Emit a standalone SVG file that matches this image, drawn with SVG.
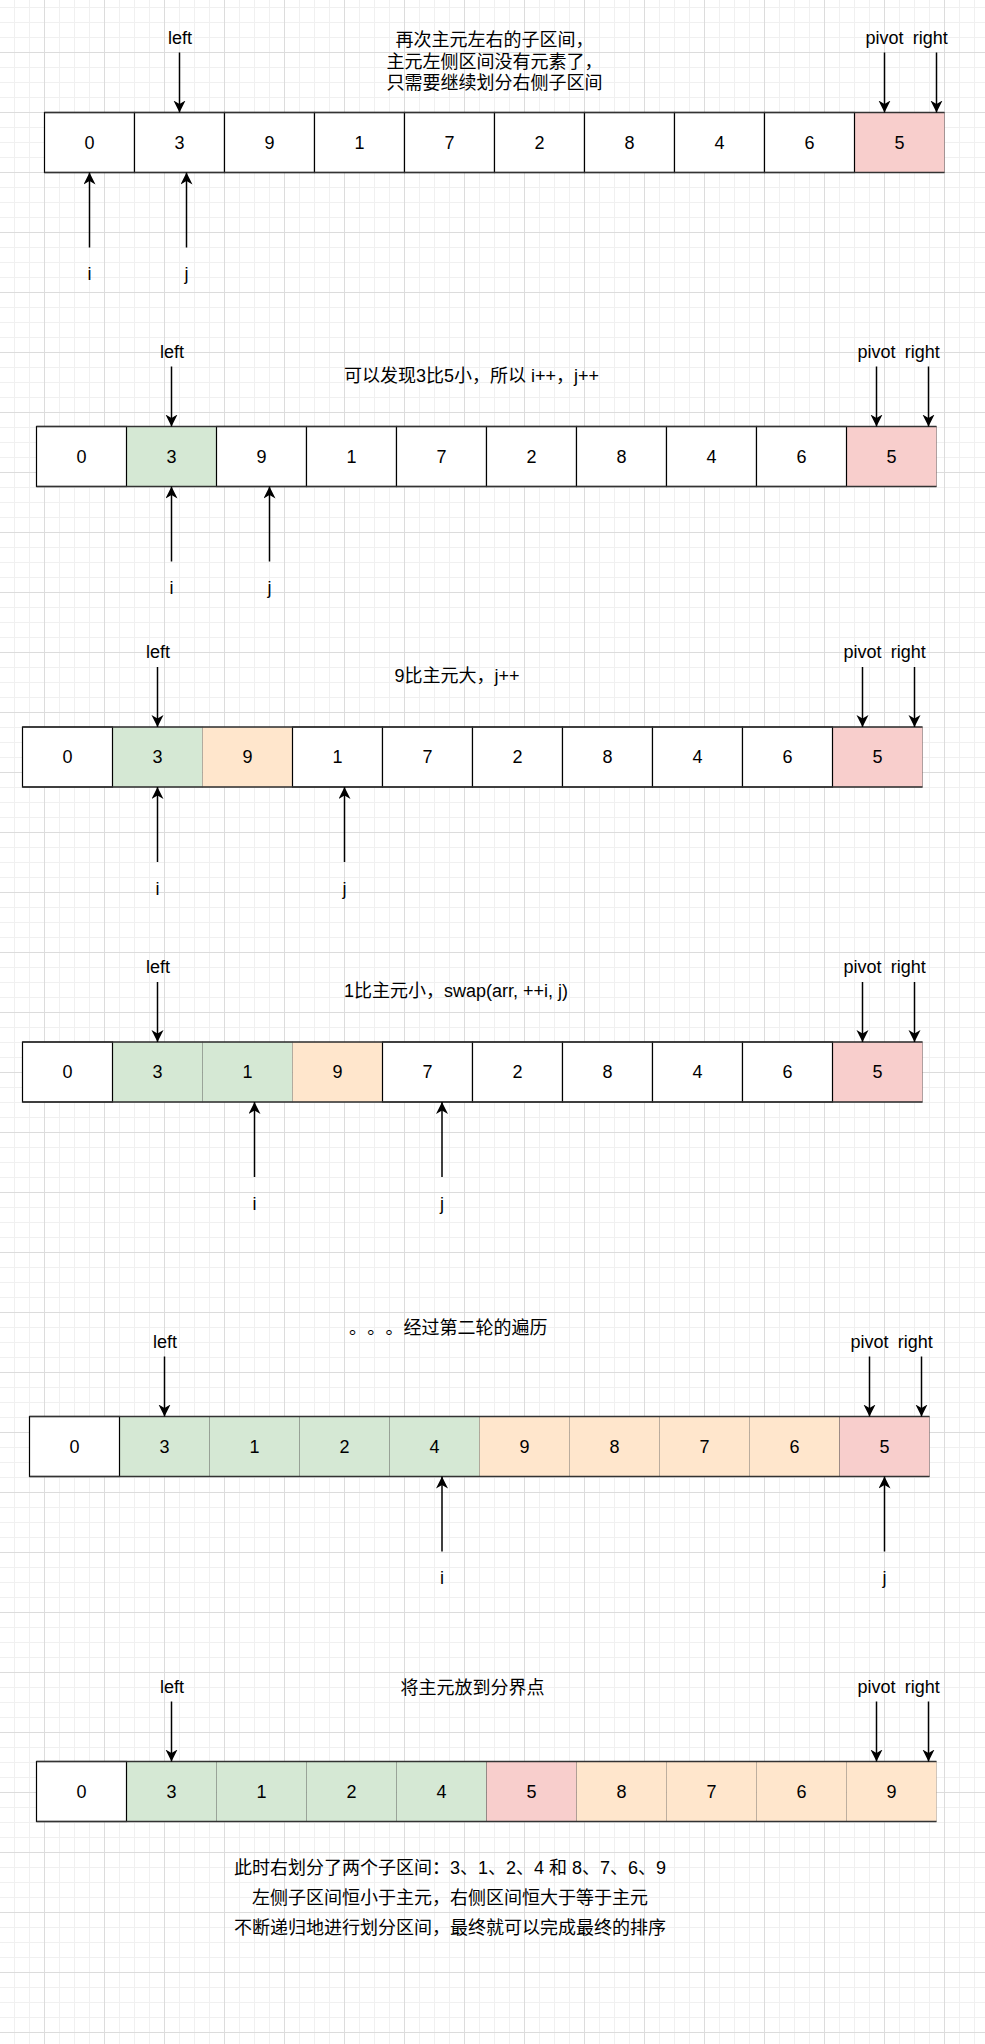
<svg xmlns="http://www.w3.org/2000/svg" width="985" height="2044" viewBox="0 0 985 2044">
<style>
.t{font-family:"Liberation Sans","Noto Sans CJK SC",sans-serif;font-size:18px;fill:#000;text-anchor:middle;text-spacing-trim:space-all}
.s{text-anchor:start}
.w{fill:#fff;stroke:#000;stroke-width:1.2}
.g{fill:#d5e8d4;stroke:#000;stroke-opacity:.22;stroke-width:1}
.o{fill:#ffe6cc;stroke:#000;stroke-opacity:.18;stroke-width:1}
.p{fill:#f8cecc;stroke:#000;stroke-opacity:.3;stroke-width:1}
.edge{stroke:#333;stroke-width:1.5}
.arr{stroke:#000;stroke-width:1.5;fill:none;marker-end:url(#ah)}
</style>
<defs>
<pattern id="grid" x="44" y="52" width="60" height="60" patternUnits="userSpaceOnUse">
<rect width="60" height="60" fill="#fff"/>
<rect x="15" width="1" height="60" fill="#f0f0f0"/>
<rect x="30" width="1" height="60" fill="#f0f0f0"/>
<rect x="45" width="1" height="60" fill="#f0f0f0"/>
<rect y="15" width="60" height="1" fill="#f0f0f0"/>
<rect y="30" width="60" height="1" fill="#f0f0f0"/>
<rect y="45" width="60" height="1" fill="#f0f0f0"/>
<rect width="1" height="60" fill="#dcdcdc"/>
<rect width="60" height="1" fill="#dcdcdc"/>
</pattern>
<marker id="ah" markerUnits="userSpaceOnUse" markerWidth="14" markerHeight="14" refX="12" refY="6" orient="auto" viewBox="0 0 14 14">
<path d="M0,0 L12,6 L0,12 L3.5,6 Z" fill="#000"/>
</marker>
</defs>
<rect width="985" height="2044" fill="url(#grid)"/>

<!-- Row 1 -->
<g id="row1">
<rect class="p" x="854.5" y="112.5" width="90" height="60"/>
<rect class="w" x="44.5" y="112.5" width="90" height="60"/>
<rect class="w" x="134.5" y="112.5" width="90" height="60"/>
<rect class="w" x="224.5" y="112.5" width="90" height="60"/>
<rect class="w" x="314.5" y="112.5" width="90" height="60"/>
<rect class="w" x="404.5" y="112.5" width="90" height="60"/>
<rect class="w" x="494.5" y="112.5" width="90" height="60"/>
<rect class="w" x="584.5" y="112.5" width="90" height="60"/>
<rect class="w" x="674.5" y="112.5" width="90" height="60"/>
<rect class="w" x="764.5" y="112.5" width="90" height="60"/>
<path class="edge" d="M44.5,112.5H944.5M44.5,172.5H944.5"/>
<text class="t" x="89.5" y="148.5">0</text><text class="t" x="179.5" y="148.5">3</text><text class="t" x="269.5" y="148.5">9</text><text class="t" x="359.5" y="148.5">1</text><text class="t" x="449.5" y="148.5">7</text><text class="t" x="539.5" y="148.5">2</text><text class="t" x="629.5" y="148.5">8</text><text class="t" x="719.5" y="148.5">4</text><text class="t" x="809.5" y="148.5">6</text><text class="t" x="899.5" y="148.5">5</text>
</g>
<g id="row1-labels">
<text class="t" x="180" y="43.5">left</text>
<text class="t" x="884.5" y="43.5">pivot</text>
<text class="t" x="930.3" y="43.5">right</text>
<text class="t" x="494.5" y="46">再次主元左右的子区间，</text>
<text class="t" x="494.5" y="67.6">主元左侧区间没有元素了，</text>
<text class="t" x="494.5" y="89.2">只需要继续划分右侧子区间</text>
<text class="t" x="89.5" y="280">i</text>
<text class="t" x="186.5" y="280">j</text>
</g>

<!-- Row 2 -->
<g id="row2">
<rect class="g" x="126.5" y="426.5" width="90" height="60"/>
<rect class="p" x="846.5" y="426.5" width="90" height="60"/>
<rect class="w" x="36.5" y="426.5" width="90" height="60"/>
<rect class="w" x="216.5" y="426.5" width="90" height="60"/>
<rect class="w" x="306.5" y="426.5" width="90" height="60"/>
<rect class="w" x="396.5" y="426.5" width="90" height="60"/>
<rect class="w" x="486.5" y="426.5" width="90" height="60"/>
<rect class="w" x="576.5" y="426.5" width="90" height="60"/>
<rect class="w" x="666.5" y="426.5" width="90" height="60"/>
<rect class="w" x="756.5" y="426.5" width="90" height="60"/>
<path class="edge" d="M36.5,426.5H936.5M36.5,486.5H936.5"/>
<text class="t" x="81.5" y="462.5">0</text><text class="t" x="171.5" y="462.5">3</text><text class="t" x="261.5" y="462.5">9</text><text class="t" x="351.5" y="462.5">1</text><text class="t" x="441.5" y="462.5">7</text><text class="t" x="531.5" y="462.5">2</text><text class="t" x="621.5" y="462.5">8</text><text class="t" x="711.5" y="462.5">4</text><text class="t" x="801.5" y="462.5">6</text><text class="t" x="891.5" y="462.5">5</text>
</g>
<g id="row2-labels">
<text class="t" x="172" y="357.5">left</text>
<text class="t" x="876.5" y="357.5">pivot</text>
<text class="t" x="922.3" y="357.5">right</text>
<text class="t" x="471.5" y="381.8">可以发现3比5小，所以 i++，j++</text>
<text class="t" x="171.5" y="594">i</text>
<text class="t" x="269.5" y="594">j</text>
</g>

<!-- Row 3 -->
<g id="row3">
<rect class="g" x="112.5" y="727" width="90" height="60"/>
<rect class="o" x="202.5" y="727" width="90" height="60"/>
<rect class="p" x="832.5" y="727" width="90" height="60"/>
<rect class="w" x="22.5" y="727" width="90" height="60"/>
<rect class="w" x="292.5" y="727" width="90" height="60"/>
<rect class="w" x="382.5" y="727" width="90" height="60"/>
<rect class="w" x="472.5" y="727" width="90" height="60"/>
<rect class="w" x="562.5" y="727" width="90" height="60"/>
<rect class="w" x="652.5" y="727" width="90" height="60"/>
<rect class="w" x="742.5" y="727" width="90" height="60"/>
<path class="edge" d="M22.5,727H922.5M22.5,787H922.5"/>
<text class="t" x="67.5" y="763">0</text><text class="t" x="157.5" y="763">3</text><text class="t" x="247.5" y="763">9</text><text class="t" x="337.5" y="763">1</text><text class="t" x="427.5" y="763">7</text><text class="t" x="517.5" y="763">2</text><text class="t" x="607.5" y="763">8</text><text class="t" x="697.5" y="763">4</text><text class="t" x="787.5" y="763">6</text><text class="t" x="877.5" y="763">5</text>
</g>
<g id="row3-labels">
<text class="t" x="158" y="658">left</text>
<text class="t" x="862.5" y="658">pivot</text>
<text class="t" x="908.3" y="658">right</text>
<text class="t" x="457" y="681.8">9比主元大，j++</text>
<text class="t" x="157.5" y="894.5">i</text>
<text class="t" x="344.5" y="894.5">j</text>
</g>

<!-- Row 4 -->
<g id="row4">
<rect class="g" x="112.5" y="1042" width="90" height="60"/>
<rect class="g" x="202.5" y="1042" width="90" height="60"/>
<rect class="o" x="292.5" y="1042" width="90" height="60"/>
<rect class="p" x="832.5" y="1042" width="90" height="60"/>
<rect class="w" x="22.5" y="1042" width="90" height="60"/>
<rect class="w" x="382.5" y="1042" width="90" height="60"/>
<rect class="w" x="472.5" y="1042" width="90" height="60"/>
<rect class="w" x="562.5" y="1042" width="90" height="60"/>
<rect class="w" x="652.5" y="1042" width="90" height="60"/>
<rect class="w" x="742.5" y="1042" width="90" height="60"/>
<path class="edge" d="M22.5,1042H922.5M22.5,1102H922.5"/>
<text class="t" x="67.5" y="1078">0</text><text class="t" x="157.5" y="1078">3</text><text class="t" x="247.5" y="1078">1</text><text class="t" x="337.5" y="1078">9</text><text class="t" x="427.5" y="1078">7</text><text class="t" x="517.5" y="1078">2</text><text class="t" x="607.5" y="1078">8</text><text class="t" x="697.5" y="1078">4</text><text class="t" x="787.5" y="1078">6</text><text class="t" x="877.5" y="1078">5</text>
</g>
<g id="row4-labels">
<text class="t" x="158" y="973">left</text>
<text class="t" x="862.5" y="973">pivot</text>
<text class="t" x="908.3" y="973">right</text>
<text class="t" x="456" y="996.8">1比主元小，swap(arr, ++i, j)</text>
<text class="t" x="254.5" y="1209.5">i</text>
<text class="t" x="442" y="1209.5">j</text>
</g>

<!-- Row 5 -->
<g id="row5">
<rect class="g" x="119.5" y="1416.5" width="90" height="60"/>
<rect class="g" x="209.5" y="1416.5" width="90" height="60"/>
<rect class="g" x="299.5" y="1416.5" width="90" height="60"/>
<rect class="g" x="389.5" y="1416.5" width="90" height="60"/>
<rect class="o" x="479.5" y="1416.5" width="90" height="60"/>
<rect class="o" x="569.5" y="1416.5" width="90" height="60"/>
<rect class="o" x="659.5" y="1416.5" width="90" height="60"/>
<rect class="o" x="749.5" y="1416.5" width="90" height="60"/>
<rect class="p" x="839.5" y="1416.5" width="90" height="60"/>
<rect class="w" x="29.5" y="1416.5" width="90" height="60"/>
<path class="edge" d="M29.5,1416.5H929.5M29.5,1476.5H929.5"/>
<text class="t" x="74.5" y="1452.5">0</text><text class="t" x="164.5" y="1452.5">3</text><text class="t" x="254.5" y="1452.5">1</text><text class="t" x="344.5" y="1452.5">2</text><text class="t" x="434.5" y="1452.5">4</text><text class="t" x="524.5" y="1452.5">9</text><text class="t" x="614.5" y="1452.5">8</text><text class="t" x="704.5" y="1452.5">7</text><text class="t" x="794.5" y="1452.5">6</text><text class="t" x="884.5" y="1452.5">5</text>
</g>
<g id="row5-labels">
<text class="t" x="165" y="1347.5">left</text>
<text class="t" x="869.5" y="1347.5">pivot</text>
<text class="t" x="915.3" y="1347.5">right</text>
<text class="t s" y="1333.5"><tspan x="349">。</tspan><tspan x="367.3">。</tspan><tspan x="385.6">。经过第二轮的遍历</tspan></text>
<text class="t" x="442" y="1584">i</text>
<text class="t" x="884.5" y="1584">j</text>
</g>

<!-- Row 6 -->
<g id="row6">
<rect class="g" x="126.5" y="1761.5" width="90" height="60"/>
<rect class="g" x="216.5" y="1761.5" width="90" height="60"/>
<rect class="g" x="306.5" y="1761.5" width="90" height="60"/>
<rect class="g" x="396.5" y="1761.5" width="90" height="60"/>
<rect class="p" x="486.5" y="1761.5" width="90" height="60"/>
<rect class="o" x="576.5" y="1761.5" width="90" height="60"/>
<rect class="o" x="666.5" y="1761.5" width="90" height="60"/>
<rect class="o" x="756.5" y="1761.5" width="90" height="60"/>
<rect class="o" x="846.5" y="1761.5" width="90" height="60"/>
<rect class="w" x="36.5" y="1761.5" width="90" height="60"/>
<path class="edge" d="M36.5,1761.5H936.5M36.5,1821.5H936.5"/>
<text class="t" x="81.5" y="1797.5">0</text><text class="t" x="171.5" y="1797.5">3</text><text class="t" x="261.5" y="1797.5">1</text><text class="t" x="351.5" y="1797.5">2</text><text class="t" x="441.5" y="1797.5">4</text><text class="t" x="531.5" y="1797.5">5</text><text class="t" x="621.5" y="1797.5">8</text><text class="t" x="711.5" y="1797.5">7</text><text class="t" x="801.5" y="1797.5">6</text><text class="t" x="891.5" y="1797.5">9</text>
</g>
<g id="row6-labels">
<text class="t" x="172" y="1692.5">left</text>
<text class="t" x="876.5" y="1692.5">pivot</text>
<text class="t" x="922.3" y="1692.5">right</text>
<text class="t" x="472.4" y="1693.5">将主元放到分界点</text>
</g>

<g id="summary">
<text class="t" x="450" y="1873.5">此时右划分了两个子区间：3、1、2、4 和 8、7、6、9</text>
<text class="t" x="450" y="1903.5">左侧子区间恒小于主元，右侧区间恒大于等于主元</text>
<text class="t" x="450" y="1933.5">不断递归地进行划分区间，最终就可以完成最终的排序</text>
</g>

<g id="connectors">
<path class="arr" d="M179.5,52.5V112.5"/><path class="arr" d="M884.5,52.5V112.5"/><path class="arr" d="M936.5,52.5V112.5"/>
<path class="arr" d="M89.5,247.5V172.5"/><path class="arr" d="M186.5,247.5V172.5"/>
<path class="arr" d="M171.5,366.5V426.5"/><path class="arr" d="M876.5,366.5V426.5"/><path class="arr" d="M928.5,366.5V426.5"/>
<path class="arr" d="M171.5,561.5V486.5"/><path class="arr" d="M269.5,561.5V486.5"/>
<path class="arr" d="M157.5,667V727"/><path class="arr" d="M862.5,667V727"/><path class="arr" d="M914.5,667V727"/>
<path class="arr" d="M157.5,862V787"/><path class="arr" d="M344.5,862V787"/>
<path class="arr" d="M157.5,982V1042"/><path class="arr" d="M862.5,982V1042"/><path class="arr" d="M914.5,982V1042"/>
<path class="arr" d="M254.5,1177V1102"/><path class="arr" d="M442,1177V1102"/>
<path class="arr" d="M164.5,1356.5V1416.5"/><path class="arr" d="M869.5,1356.5V1416.5"/><path class="arr" d="M921.5,1356.5V1416.5"/>
<path class="arr" d="M442,1551.5V1476.5"/><path class="arr" d="M884.5,1551.5V1476.5"/>
<path class="arr" d="M171.5,1701.5V1761.5"/><path class="arr" d="M876.5,1701.5V1761.5"/><path class="arr" d="M928.5,1701.5V1761.5"/>
</g>
</svg>
